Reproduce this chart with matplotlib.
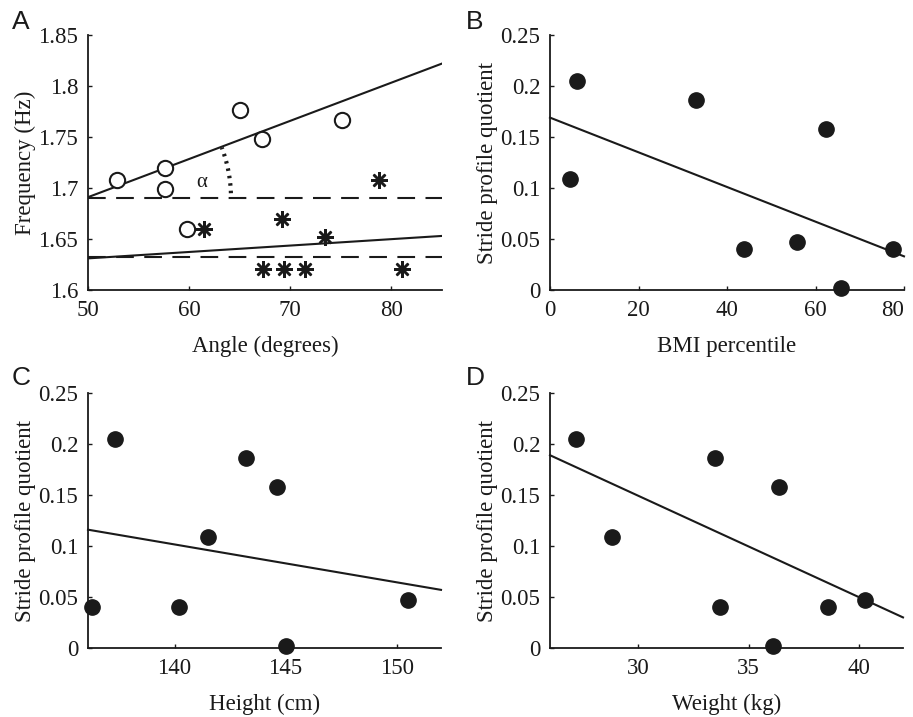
import numpy as np
import matplotlib
matplotlib.use("Agg")
import matplotlib.pyplot as plt

# ---------------- data ----------------
# Panel A
circ_angle = [52.9, 57.6, 57.6, 65.0, 67.2, 75.1, 59.8]
circ_freq = [1.708, 1.720, 1.699, 1.776, 1.748, 1.767, 1.660]
star_angle = [61.5, 69.2, 78.8, 73.4, 67.3, 69.4, 71.5, 81.0]
star_freq = [1.660, 1.670, 1.708, 1.652, 1.621, 1.621, 1.621, 1.621]
fitA_up_x = [50, 85]
fitA_up_y = [1.691, 1.822]
fitA_lo_x = [50, 85]
fitA_lo_y = [1.631, 1.653]
dash_levels = [1.690, 1.632]

# Panels B-D (one entry per subject)
spq = [0.205, 0.109, 0.186, 0.158, 0.002, 0.047, 0.040, 0.040]
bmi = [6.2, 4.5, 32.9, 62.3, 65.7, 55.8, 43.9, 77.6]
height = [137.3, 141.5, 143.2, 144.6, 145.0, 150.5, 136.3, 140.2]
weight = [27.2, 28.8, 33.5, 36.4, 36.1, 40.3, 33.7, 38.6]
fitB_x = [0, 80]
fitB_y = [0.169, 0.033]
fitC_x = [136.1, 152.0]
fitC_y = [0.116, 0.057]
fitD_x = [26.0, 42.0]
fitD_y = [0.189, 0.030]

# ---------------- style ----------------
serif = ["Liberation Serif", "DejaVu Serif"]
sans = ["Liberation Sans", "DejaVu Sans"]
ink = "#1a1a1a"
fs = 16.5

fig = plt.figure(figsize=(9.13, 7.17), dpi=100)
W, H = 913, 717


def make_ax(l, t, r, b):
    return fig.add_axes([l / W, 1 - b / H, (r - l) / W, (b - t) / H])


def style(ax):
    for s in ["top", "right"]:
        ax.spines[s].set_visible(False)
    for s in ["left", "bottom"]:
        ax.spines[s].set_linewidth(1.3)
        ax.spines[s].set_color(ink)
    ax.tick_params(direction="in", length=3, width=1.0, colors=ink,
                   labelsize=fs, pad=7)
    for lab in ax.get_xticklabels() + ax.get_yticklabels():
        lab.set_family(serif)


axA = make_ax(88, 35, 442, 290)
axB = make_ax(550, 35, 904, 290)
axC = make_ax(88, 393, 441, 648)
axD = make_ax(550, 393, 903, 648)

XPAD, YPAD = 11, 2

# ---------- Panel A ----------
axA.set_xlim(50, 85)
axA.set_ylim(1.6, 1.85)
axA.set_xticks([50, 60, 70, 80])
axA.set_yticks([1.6, 1.65, 1.7, 1.75, 1.8, 1.85])
axA.set_yticklabels(["1.6", "1.65", "1.7", "1.75", "1.8", "1.85"])
for lv in dash_levels:
    axA.plot([50, 85], [lv, lv], color=ink, lw=1.5, ls=(0, (8.5, 5)))
axA.plot(fitA_up_x, fitA_up_y, color=ink, lw=1.5)
axA.plot(fitA_lo_x, fitA_lo_y, color=ink, lw=1.5)
axA.plot(circ_angle, circ_freq, "o", ms=11, mfc="white", mec=ink, mew=1.5,
         ls="none", zorder=5)
axA.plot(star_angle, star_freq, ls="none", marker=(8, 2, 0), ms=12, mec=ink,
         mew=1.8, zorder=5)

# angle arc (alpha) drawn in display space around the line origin
cx, cy = axA.transData.transform((fitA_up_x[0], dash_levels[0]))
p0 = axA.transData.transform((fitA_up_x[0], fitA_up_y[0]))
p1 = axA.transData.transform((fitA_up_x[1], fitA_up_y[1]))
theta = np.degrees(np.arctan2(p1[1] - p0[1], p1[0] - p0[0]))
rad = 143
ang = np.radians(np.linspace(2, theta, 30))
pts = np.column_stack([cx + rad * np.cos(ang), cy + rad * np.sin(ang)])
dpts = axA.transData.inverted().transform(pts)
axA.plot(dpts[:, 0], dpts[:, 1], color=ink, lw=3, ls=(0, (0.6, 1.2)),
         solid_capstyle="butt")
axA.text(61.2, 1.705, "α", family=serif, fontsize=15, color=ink,
         ha="center", va="center")
axA.set_xlabel("Angle (degrees)", family=serif, fontsize=fs, color=ink,
               labelpad=XPAD)
axA.set_ylabel("Frequency (Hz)", family=serif, fontsize=fs, color=ink,
               labelpad=YPAD)

# ---------- Panels B-D ----------
spq_ticks = [0, 0.05, 0.1, 0.15, 0.2, 0.25]
spq_labels = ["0", "0.05", "0.1", "0.15", "0.2", "0.25"]


def spq_panel(ax, x, fx, fy, xlim, xticks, xlabel):
    ax.set_xlim(*xlim)
    ax.set_ylim(0, 0.25)
    ax.set_xticks(xticks)
    ax.set_yticks(spq_ticks)
    ax.set_yticklabels(spq_labels)
    ax.plot(fx, fy, color=ink, lw=1.5, clip_on=False)
    ax.plot(x, spq, "o", ms=11, color=ink, ls="none", zorder=5,
            clip_on=False)
    ax.set_xlabel(xlabel, family=serif, fontsize=fs, color=ink,
                  labelpad=XPAD)
    ax.set_ylabel("Stride profile quotient", family=serif, fontsize=fs,
                  color=ink, labelpad=YPAD)


spq_panel(axB, bmi, fitB_x, fitB_y, (0, 80), [0, 20, 40, 60, 80],
          "BMI percentile")
spq_panel(axC, height, fitC_x, fitC_y, (136.1, 152), [140, 145, 150],
          "Height (cm)")
spq_panel(axD, weight, fitD_x, fitD_y, (26.0, 42.0), [30, 35, 40],
          "Weight (kg)")

for ax in (axA, axB, axC, axD):
    style(ax)

# keep the last BMI tick label inside the figure
axB.get_xticklabels()[-1].set_horizontalalignment("right")
axB.get_xticklabels()[-1].set_x(80)

# panel letters
for lab, (x, y) in zip("ABCD", [(12, 10), (466, 10), (12, 366), (466, 366)]):
    fig.text(x / W, 1 - y / H, lab, family=sans, fontsize=19, color=ink,
             ha="left", va="top")

fig.savefig("out.png", dpi=100)
